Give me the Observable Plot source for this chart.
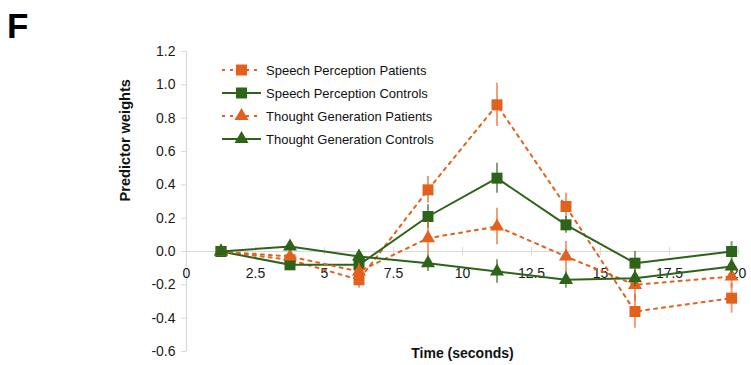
<!DOCTYPE html>
<html><head><meta charset="utf-8">
<script src="https://cdn.jsdelivr.net/npm/d3@7"></script>
<script src="https://cdn.jsdelivr.net/npm/@observablehq/plot@0.6"></script>
<style>
body{margin:0;background:#fff;}
#chart svg{display:block;font-family:"Liberation Sans",Arial,sans-serif;}
</style>
</head><body><div id="chart"></div>
<script>
const panelLabel = "F";
const times = [1.25, 3.75, 6.25, 8.75, 11.25, 13.75, 16.25, 19.75];
const seriesNames = ["Speech Perception Patients", "Speech Perception Controls", "Thought Generation Patients", "Thought Generation Controls"];
const speechPatients = [0, -0.05, -0.17, 0.37, 0.88, 0.27, -0.36, -0.28];
const speechPatientsErr = [0, 0.03, 0.05, 0.08, 0.13, 0.08, 0.10, 0.09];
const speechControls = [0, -0.08, -0.08, 0.21, 0.44, 0.16, -0.07, 0.0];
const speechControlsErr = [0, 0.02, 0.03, 0.07, 0.09, 0.05, 0.07, 0.06];
const thoughtPatients = [0, -0.03, -0.12, 0.08, 0.15, -0.03, -0.20, -0.15];
const thoughtPatientsErr = [0, 0.03, 0.05, 0.10, 0.11, 0.09, 0.10, 0.07];
const thoughtControls = [0, 0.03, -0.03, -0.07, -0.12, -0.17, -0.16, -0.09];
const thoughtControlsErr = [0, 0.02, 0.03, 0.05, 0.07, 0.05, 0.05, 0.04];
const xTicks = [0, 2.5, 5, 7.5, 10, 12.5, 15, 17.5, 20];
const xTickLabels = ["0", "2.5", "5", "7.5", "10", "12.5", "15", "17.5", "20"];
const yTicks = [-0.6, -0.4, -0.2, 0.0, 0.2, 0.4, 0.6, 0.8, 1.0, 1.2];
const yTickLabels = ["-0.6", "-0.4", "-0.2", "0.0", "0.2", "0.4", "0.6", "0.8", "1.0", "1.2"];
const xTitle = "Time (seconds)";
const yTitle = "Predictor weights";

const ORANGE = "#e2611f", GREEN = "#2d6419";
const seriesStyle = [
  {color: ORANGE, dashed: true, symbol: "square", r: 6.2},
  {color: GREEN, dashed: false, symbol: "square", r: 6.2},
  {color: ORANGE, dashed: true, symbol: "triangle", r: 5.2},
  {color: GREEN, dashed: false, symbol: "triangle", r: 5.2}
];
const values = [speechPatients, speechControls, thoughtPatients, thoughtControls];
const errs = [speechPatientsErr, speechControlsErr, thoughtPatientsErr, thoughtControlsErr];

const seriesData = values.map((vals, i) => times.map((t, j) => ({series: seriesNames[i], t, v: vals[j], e: errs[i][j]})));

const marks = [
  Plot.ruleY([0], {stroke: "#d9d9d9", strokeWidth: 1.2}),
  Plot.ruleX([0], {stroke: "#d9d9d9", strokeWidth: 1.2}),
  Plot.ruleY(yTicks, {x1: 0, x2: 0, insetLeft: -5, stroke: "#d9d9d9"}),
  Plot.ruleX(xTicks, {y1: 0, y2: 0, insetTop: -4, insetBottom: -4, stroke: "#d9d9d9"}),
  Plot.text(yTicks, {x: 0, y: d => d, text: (d, i) => yTickLabels[i], textAnchor: "end", dx: -11, fontSize: 14, fill: "#1a1a1a"}),
  Plot.text(xTicks, {x: d => d, y: 0, text: (d, i) => xTickLabels[i], dy: 22, fontSize: 14, fill: "#1a1a1a"}),
  Plot.text([yTitle], {frameAnchor: "left", rotate: -90, dx: -61, fontSize: 14.6, fontWeight: "bold", fill: "#111"}),
  Plot.text([xTitle], {frameAnchor: "bottom", dy: 2, lineAnchor: "middle", fontSize: 14, fontWeight: "bold", fill: "#111"})
];
seriesData.forEach((rows, i) => {
  const s = seriesStyle[i];
  marks.push(Plot.line(rows, {x: "t", y: "v", stroke: s.color, strokeWidth: 2, strokeDasharray: s.dashed ? "3,5" : null}));
  marks.push(Plot.ruleX(rows.filter(d => d.e > 0), {x: "t", y1: d => d.v - d.e, y2: d => d.v + d.e, stroke: s.color, strokeWidth: 2, strokeOpacity: 0.6}));
  marks.push(Plot.dot(rows, {x: "t", y: "v", symbol: s.symbol, r: s.r, fill: s.color, stroke: "none"}));
});

const chart = Plot.plot({
  width: 751, height: 365,
  marginLeft: 186, marginRight: 13, marginTop: 51, marginBottom: 14,
  x: {domain: [0, 20], axis: null},
  y: {domain: [-0.6, 1.2], axis: null},
  style: {fontFamily: "'Liberation Sans', Arial, sans-serif", background: "#fff", overflow: "visible"},
  marks
});
document.getElementById("chart").appendChild(chart);

// panel label and legend
const svg = d3.select(chart);
svg.append("text").attr("x", 7).attr("y", 38).attr("font-size", 35).attr("font-weight", "bold")
  .attr("text-anchor", "start").attr("fill", "#000").text(panelLabel);
const lg = svg.append("g").attr("text-anchor", "start");
const rowY = [70, 93, 116, 139];
seriesNames.forEach((name, i) => {
  const s = seriesStyle[i];
  const g = lg.append("g").attr("transform", `translate(0,${rowY[i]})`);
  g.append("line").attr("x1", 222).attr("x2", 261).attr("y1", 0).attr("y2", 0)
    .attr("stroke", s.color).attr("stroke-width", 2).attr("stroke-dasharray", s.dashed ? "3,5" : null);
  g.append("path").attr("transform", "translate(241.5,0)")
    .attr("d", d3.symbol(s.symbol === "square" ? d3.symbolSquare : d3.symbolTriangle, Math.PI * s.r * s.r)())
    .attr("fill", s.color);
  g.append("text").attr("x", 266).attr("y", 0).attr("dy", "0.35em").attr("font-size", 13)
    .attr("text-anchor", "start").attr("fill", "#111").text(name);
});
</script>
</body></html>
